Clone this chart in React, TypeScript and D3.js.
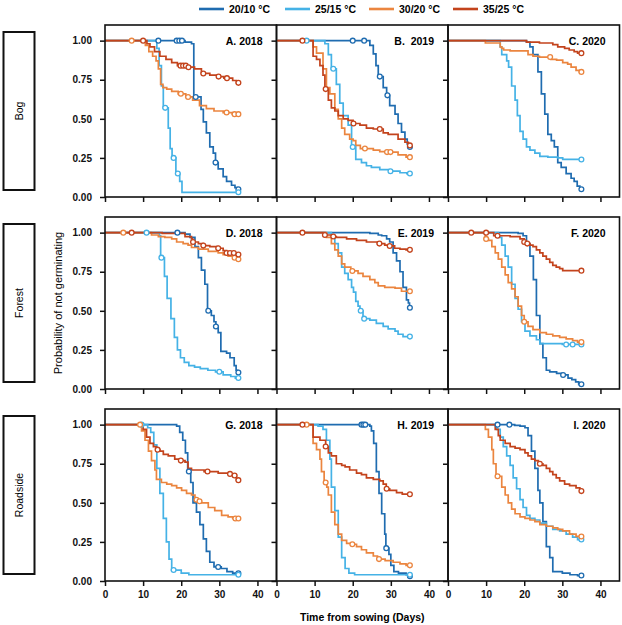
import * as React from 'react';
import { useEffect, useRef } from 'react';
import * as d3 from 'd3';

type Step = [number, number];

// treatment order: 20/10, 25/15, 30/20, 35/25
const temps = ['20/10 °C', '25/15 °C', '30/20 °C', '35/25 °C'];
const colors = ['#1f6cb0', '#45b2e6', '#eb853f', '#c3431c'];
const habitats = ['Bog', 'Forest', 'Roadside'];
const titles = ['A. 2018', 'B.  2019', 'C. 2020', 'D. 2018', 'E. 2019', 'F. 2020', 'G. 2018', 'H. 2019', 'I. 2020'];
const xTicks = [0, 10, 20, 30, 40];
const yTicks = [0, 0.25, 0.5, 0.75, 1];
const endDay = 35;

// Kaplan-Meier steps [day, survival] and censoring days, per panel and treatment
const A_2010: Step[] = [[0, 1], [21, 0.99], [22.7, 0.98], [23.3, 0.64], [25.2, 0.56], [25.8, 0.48], [26.6, 0.41], [27.5, 0.32], [28.4, 0.28], [29, 0.22], [29.7, 0.18], [31, 0.13], [31.9, 0.1], [33.2, 0.075], [34.1, 0.06], [34.7, 0.05]];
const A_2515: Step[] = [[0, 1], [13.6, 0.95], [14.2, 0.84], [14.8, 0.71], [15.3, 0.57], [16.6, 0.44], [17.1, 0.31], [17.6, 0.25], [18.6, 0.15], [19.6, 0.1], [20.2, 0.03]];
const A_3020: Step[] = [[0, 1], [10.6, 0.97], [11.5, 0.93], [12.5, 0.9], [13.4, 0.87], [14, 0.82], [14.6, 0.72], [15.2, 0.7], [16.2, 0.69], [17.5, 0.675], [19.2, 0.66], [21.2, 0.64], [23, 0.62], [24.8, 0.585], [26.6, 0.565], [28.6, 0.55], [31, 0.54], [33.4, 0.53]];
const A_3525: Step[] = [[0, 1], [11, 0.98], [11.8, 0.96], [13, 0.93], [14.4, 0.9], [16, 0.88], [17.5, 0.86], [19, 0.84], [21.3, 0.83], [23.5, 0.82], [25.3, 0.79], [27.5, 0.78], [29.5, 0.77], [31.2, 0.76], [33.5, 0.745], [34.5, 0.73]];
const A_cens = [[14, 18.8, 19.5, 20.2, 23.8, 29, 35], [15.8, 18, 19.1, 35], [7, 19.9, 21.8, 31.9, 34, 35], [10, 19.8, 20.5, 21.2, 21.9, 25.8, 29.8, 32, 35]];

const B_2010: Step[] = [[0, 1], [24.5, 0.97], [25.4, 0.915], [26.1, 0.84], [26.7, 0.77], [28, 0.7], [28.9, 0.65], [29.7, 0.585], [31.1, 0.53], [31.9, 0.47], [32.8, 0.415], [33.7, 0.37], [34.3, 0.34], [34.8, 0.32]];
const B_2515: Step[] = [[0, 1], [12.7, 0.98], [13.6, 0.91], [14.4, 0.82], [15.7, 0.72], [16.6, 0.6], [17.5, 0.52], [18.8, 0.46], [19.7, 0.32], [20.8, 0.24], [22.3, 0.22], [23.6, 0.2], [24.9, 0.19], [27.1, 0.175], [29.5, 0.165], [32.4, 0.155], [34.2, 0.15]];
const B_3020: Step[] = [[0, 1], [9.6, 0.96], [10.5, 0.92], [12.2, 0.82], [13.1, 0.7], [14, 0.66], [15.3, 0.56], [16.2, 0.5], [17.1, 0.44], [17.9, 0.4], [19.2, 0.37], [20.1, 0.36], [20.8, 0.33], [22, 0.31], [25.4, 0.3], [27.1, 0.29], [29, 0.287], [31.9, 0.27], [34, 0.255]];
const B_3525: Step[] = [[0, 1], [9.6, 0.9], [10.5, 0.88], [11.4, 0.84], [12.2, 0.78], [12.7, 0.69], [13.6, 0.62], [14.4, 0.57], [15.3, 0.55], [16.2, 0.52], [17.5, 0.5], [18.8, 0.49], [20.1, 0.47], [21.9, 0.46], [23.6, 0.44], [25.4, 0.435], [28, 0.41], [29.3, 0.4], [31.9, 0.37], [33.7, 0.35], [34.6, 0.33]];
const B_cens = [[20, 23, 27.1, 29.1, 35], [7.9, 14.9, 20, 29.9, 35], [23.2, 29, 29.9, 35], [6.8, 12.9, 20.2, 27.1, 35]];

const C_2010: Step[] = [[0, 1], [20.6, 0.99], [21.5, 0.96], [22.3, 0.91], [23.6, 0.8], [24.5, 0.66], [25.4, 0.53], [26.2, 0.4], [27.1, 0.36], [27.9, 0.32], [28.8, 0.22], [29.7, 0.19], [31, 0.15], [32.3, 0.12], [33.1, 0.1], [33.9, 0.07], [34.6, 0.05]];
const C_2515: Step[] = [[0, 1], [13.7, 0.96], [14.1, 0.91], [15.4, 0.87], [15.9, 0.83], [16.7, 0.71], [17.6, 0.62], [18.2, 0.52], [18.9, 0.42], [19.7, 0.37], [20.6, 0.32], [21.5, 0.3], [22.8, 0.28], [24.1, 0.26], [26.2, 0.255], [28.8, 0.25], [30.1, 0.24]];
const C_3020: Step[] = [[0, 1], [9.8, 0.985], [13.7, 0.96], [14.1, 0.95], [14.6, 0.94], [16.3, 0.935], [21, 0.91], [22.3, 0.9], [24, 0.895], [27, 0.88], [28.5, 0.875], [30.1, 0.86], [31.4, 0.85], [32.3, 0.83], [33.6, 0.81], [34.5, 0.8]];
const C_3525: Step[] = [[0, 1], [20.6, 0.99], [24, 0.985], [27.5, 0.975], [28.8, 0.96], [30.6, 0.95], [31.8, 0.94], [33.1, 0.93], [34, 0.92]];
const C_cens = [[35], [35], [26.8, 35], [35]];

const D_2010: Step[] = [[0, 1], [21, 0.99], [22.3, 0.97], [23.6, 0.91], [24.5, 0.84], [25.3, 0.76], [26.2, 0.67], [26.9, 0.5], [27.9, 0.47], [28.6, 0.43], [29.1, 0.4], [29.7, 0.36], [30.4, 0.24], [31.9, 0.23], [32.8, 0.2], [33.9, 0.15], [34.4, 0.12], [34.8, 0.105]];
const D_2515: Step[] = [[0, 1], [14.3, 0.98], [14.6, 0.84], [15.6, 0.72], [16.3, 0.58], [17.3, 0.45], [18.2, 0.33], [19, 0.25], [19.8, 0.2], [20.8, 0.17], [22, 0.15], [23.5, 0.14], [25, 0.13], [27, 0.12], [29, 0.11], [31, 0.09], [33, 0.08], [34.2, 0.07]];
const D_3020: Step[] = [[0, 1], [12.2, 0.985], [14, 0.975], [15.7, 0.97], [17.5, 0.96], [18.8, 0.94], [20.5, 0.93], [21.8, 0.92], [22.7, 0.905], [24.5, 0.895], [27.1, 0.88], [29.7, 0.87], [31, 0.86], [32.3, 0.85], [33.6, 0.84], [34.6, 0.83]];
const D_3525: Step[] = [[0, 1], [15, 0.995], [21, 0.975], [22.7, 0.96], [23, 0.94], [24.5, 0.93], [25.8, 0.917], [27.5, 0.91], [29.7, 0.9], [31, 0.885], [31.9, 0.87], [34, 0.86]];
const D_cens = [[19, 27.1, 29.1, 35], [10.9, 14.8, 30, 35], [4.8, 34, 35], [7, 23.1, 25.8, 29.7, 31.9, 32.8, 33.8, 35]];

const E_2010: Step[] = [[0, 1], [24.5, 0.995], [26.7, 0.985], [27.6, 0.98], [28.9, 0.96], [29.7, 0.94], [30.6, 0.87], [31.5, 0.82], [32.4, 0.75], [33.2, 0.65], [34.1, 0.57], [34.6, 0.55], [34.9, 0.52]];
const E_2515: Step[] = [[0, 1], [14.4, 0.97], [15.3, 0.93], [16.2, 0.87], [17.1, 0.78], [17.9, 0.74], [18.8, 0.7], [19.7, 0.65], [20.2, 0.62], [20.8, 0.56], [21.4, 0.53], [21.9, 0.5], [22.7, 0.45], [24.5, 0.44], [26.2, 0.42], [28, 0.4], [29.3, 0.385], [31.1, 0.37], [31.9, 0.35], [33.2, 0.335]];
const E_3020: Step[] = [[0, 1], [13.1, 0.97], [14.4, 0.93], [15.3, 0.89], [16.2, 0.85], [17.1, 0.8], [17.9, 0.78], [19.5, 0.755], [21.4, 0.74], [22.7, 0.72], [24.5, 0.7], [25.8, 0.68], [26.7, 0.66], [28.4, 0.65], [31.1, 0.645], [32.8, 0.625]];
const E_3525: Step[] = [[0, 1], [12.7, 0.985], [14.5, 0.975], [15.7, 0.97], [18.4, 0.96], [21, 0.95], [23.6, 0.94], [26.5, 0.93], [28.4, 0.92], [29.5, 0.915], [31, 0.9], [32.4, 0.895], [34, 0.89]];
const E_cens = [[35], [22.1, 23, 35], [19.9, 35], [6.8, 12.7, 14.9, 27, 29.7, 35]];

const F_2010: Step[] = [[0, 1], [18.4, 0.995], [19.7, 0.98], [20.6, 0.93], [21.5, 0.85], [22.4, 0.7], [23.2, 0.47], [24.1, 0.29], [24.9, 0.2], [25.8, 0.12], [26.7, 0.11], [28.5, 0.1], [30, 0.09], [31.5, 0.07], [32.5, 0.06], [33.5, 0.045], [34.3, 0.03]];
const F_2515: Step[] = [[0, 1], [13.2, 0.97], [14.1, 0.92], [15, 0.85], [15.8, 0.78], [16.7, 0.67], [17.6, 0.58], [18.4, 0.51], [19.3, 0.43], [20.2, 0.37], [21.5, 0.34], [23.2, 0.315], [24.1, 0.29], [30, 0.285]];
const F_3020: Step[] = [[0, 1], [9.8, 0.96], [10.6, 0.95], [11.5, 0.91], [12.4, 0.87], [13.2, 0.83], [14.1, 0.78], [15, 0.73], [15.8, 0.68], [16.7, 0.64], [17.6, 0.59], [18.4, 0.53], [19.3, 0.47], [20, 0.43], [21, 0.4], [22.3, 0.38], [24.1, 0.36], [25.8, 0.35], [27.5, 0.34], [29.3, 0.33], [31, 0.32], [32.7, 0.31], [34, 0.3]];
const F_3525: Step[] = [[0, 1], [12, 0.98], [16.3, 0.975], [18.9, 0.96], [20, 0.94], [20.8, 0.93], [21.5, 0.92], [22.3, 0.91], [23.2, 0.89], [24.1, 0.87], [24.9, 0.85], [25.8, 0.83], [26.7, 0.81], [27.5, 0.79], [28.4, 0.78], [29.3, 0.77], [30.1, 0.757]];
const F_cens = [[30.2, 35], [31, 32.7, 35], [10, 20, 35], [6.1, 10, 13, 20, 20.8, 35]];

const G_2010: Step[] = [[0, 1], [18.8, 0.99], [19.6, 0.95], [20.4, 0.9], [21.1, 0.82], [21.7, 0.7], [22.5, 0.63], [23.1, 0.5], [24, 0.44], [24.9, 0.36], [25.8, 0.27], [26.6, 0.19], [27.5, 0.12], [28.6, 0.09], [30.5, 0.08], [32, 0.06], [33.5, 0.05]];
const G_2515: Step[] = [[0, 1], [11.2, 0.98], [12, 0.95], [12.8, 0.87], [13.6, 0.72], [14.4, 0.56], [15.3, 0.4], [16.1, 0.25], [16.8, 0.14], [17.5, 0.07], [20, 0.05], [22, 0.04]];
const G_3020: Step[] = [[0, 1], [9.6, 0.96], [10.5, 0.9], [11.4, 0.83], [12.2, 0.77], [13.1, 0.71], [13.5, 0.65], [14.8, 0.63], [16.2, 0.62], [17.5, 0.61], [18.8, 0.595], [20.1, 0.58], [21.4, 0.56], [22.7, 0.55], [23.6, 0.52], [24.4, 0.51], [25.3, 0.5], [27.1, 0.47], [28.8, 0.45], [30.6, 0.42], [32.3, 0.41], [33.5, 0.4]];
const G_3525: Step[] = [[0, 1], [10, 0.97], [10.9, 0.92], [11.8, 0.88], [12.7, 0.86], [13.5, 0.84], [14.4, 0.83], [15.3, 0.81], [16.6, 0.8], [18.3, 0.78], [19.5, 0.77], [21, 0.76], [21.8, 0.72], [22.7, 0.71], [26, 0.7], [29.7, 0.69], [32.5, 0.685], [33.6, 0.675], [34.5, 0.645]];
const G_cens = [[22, 29.7, 35], [9.6, 18, 35], [9.2, 24, 24.8, 34.2, 35], [13.8, 19.9, 26.9, 32.8, 34, 35]];

const H_2010: Step[] = [[0, 1], [24.5, 0.99], [24.9, 0.96], [25.5, 0.88], [26.2, 0.7], [26.9, 0.56], [27.6, 0.43], [28.4, 0.3], [28.7, 0.21], [29.5, 0.17], [30, 0.1], [30.8, 0.06], [32, 0.05], [34, 0.04], [34.6, 0.03]];
const H_2515: Step[] = [[0, 1], [10.9, 0.99], [12.2, 0.97], [13.1, 0.9], [14, 0.78], [14.4, 0.6], [15.3, 0.45], [16.2, 0.28], [17.1, 0.15], [18, 0.08], [19, 0.05], [20.5, 0.04]];
const H_3020: Step[] = [[0, 1], [9.6, 0.88], [10.5, 0.84], [11.4, 0.78], [11.8, 0.7], [12.5, 0.63], [13.2, 0.6], [13.6, 0.55], [14.4, 0.44], [15.3, 0.36], [16.2, 0.3], [17.1, 0.26], [18.4, 0.24], [19.5, 0.235], [21, 0.22], [22.3, 0.2], [23.6, 0.18], [25.4, 0.16], [26.5, 0.14], [28.5, 0.13], [30.6, 0.12], [32.4, 0.11], [34, 0.1]];
const H_3525: Step[] = [[0, 1], [9.6, 0.92], [11.4, 0.9], [12.9, 0.86], [13.6, 0.82], [14.4, 0.8], [15.7, 0.75], [17.1, 0.74], [18, 0.73], [19.2, 0.71], [21, 0.69], [22.3, 0.68], [23.6, 0.66], [25.4, 0.65], [27.1, 0.64], [28, 0.62], [28.8, 0.59], [29.7, 0.58], [31.5, 0.565], [33, 0.555]];
const H_cens = [[22.3, 22.8, 23.3, 28.8, 35], [35], [7.9, 12.9, 19.9, 26.9, 35], [6.8, 12.9, 28.9, 35]];

const I_2010: Step[] = [[0, 1], [17.5, 0.995], [18.9, 0.99], [20.2, 0.98], [21, 0.93], [21.9, 0.83], [22.8, 0.72], [23.6, 0.58], [24.1, 0.5], [24.9, 0.38], [25.8, 0.22], [26.7, 0.15], [27.5, 0.06], [30, 0.05], [32, 0.04], [34, 0.035]];
const I_2515: Step[] = [[0, 1], [12.8, 0.97], [13.7, 0.92], [14.5, 0.86], [15.4, 0.8], [16.3, 0.74], [17.1, 0.66], [18, 0.59], [18.9, 0.52], [19.7, 0.47], [20.6, 0.42], [21.5, 0.4], [22.8, 0.39], [24.1, 0.37], [25.8, 0.35], [27.5, 0.33], [29.3, 0.32], [31, 0.3], [32.7, 0.28], [34, 0.265]];
const I_3020: Step[] = [[0, 1], [9.8, 0.97], [10.6, 0.92], [11.5, 0.84], [11.9, 0.75], [12.6, 0.67], [14.1, 0.6], [15, 0.55], [15.8, 0.5], [16.7, 0.46], [17.6, 0.43], [18.9, 0.41], [20.2, 0.4], [21.5, 0.39], [22.8, 0.38], [24.1, 0.36], [25.8, 0.35], [27.5, 0.34], [28.8, 0.33], [30.1, 0.32], [31.9, 0.3], [33.6, 0.285]];
const I_3525: Step[] = [[0, 1], [12.4, 0.97], [13.2, 0.93], [13.7, 0.9], [15, 0.88], [16.3, 0.86], [17.6, 0.85], [18.9, 0.84], [20.2, 0.82], [21, 0.8], [21.9, 0.78], [22.8, 0.77], [23.7, 0.75], [24.9, 0.74], [25.8, 0.72], [26.7, 0.7], [27.5, 0.68], [28.4, 0.66], [29.3, 0.64], [30.6, 0.62], [31.9, 0.61], [33.6, 0.595], [34.6, 0.575]];
const I_cens = [[13, 16.1, 35], [35], [13, 35], [24.1, 35]];

const panelSeries: Step[][][] = [
  [A_2010, A_2515, A_3020, A_3525], [B_2010, B_2515, B_3020, B_3525], [C_2010, C_2515, C_3020, C_3525],
  [D_2010, D_2515, D_3020, D_3525], [E_2010, E_2515, E_3020, E_3525], [F_2010, F_2515, F_3020, F_3525],
  [G_2010, G_2515, G_3020, G_3525], [H_2010, H_2515, H_3020, H_3525], [I_2010, I_2515, I_3020, I_3525],
];
const panelCens: number[][][] = [A_cens, B_cens, C_cens, D_cens, E_cens, F_cens, G_cens, H_cens, I_cens];

// survival value in effect on a given day
function valueAt(steps: Step[], day: number) {
  let v = steps[0][1];
  for (const s of steps) if (s[0] <= day) v = s[1];
  return v;
}

export default function App() {
  const ref = useRef<SVGSVGElement | null>(null);

  useEffect(() => {
    if (!ref.current) return;
    const svg = d3.select(ref.current);
    svg.selectAll('*').remove();

    const font = '"Liberation Sans", Arial, Helvetica, sans-serif';
    const left0 = 105, colW = 171.5, top0 = 25, rowStep = 192, plotH = 172;

    // legend
    const legendX = [229, 315, 399, 483];
    const legend = svg.append('g');
    temps.forEach((t, i) => {
      legend.append('line')
        .attr('x1', legendX[i] - 30).attr('x2', legendX[i] - 5)
        .attr('y1', 9).attr('y2', 9)
        .attr('stroke', colors[i]).attr('stroke-width', 2.6);
      legend.append('text')
        .attr('x', legendX[i]).attr('y', 12.8)
        .attr('font-family', font).attr('font-weight', 'bold').attr('font-size', 10.5)
        .text(t);
    });

    for (let r = 0; r < 3; r++) {
      const top = top0 + r * rowStep;

      // habitat box
      svg.append('rect')
        .attr('x', 3.5).attr('y', top + 7).attr('width', 31).attr('height', 158)
        .attr('fill', 'none').attr('stroke', '#111').attr('stroke-width', 2);
      svg.append('text')
        .attr('transform', `translate(23,${top + 86}) rotate(-90)`)
        .attr('text-anchor', 'middle')
        .attr('font-family', font).attr('font-size', 10.5)
        .text(habitats[r]);

      for (let c = 0; c < 3; c++) {
        const idx = r * 3 + c;
        const left = left0 + c * colW;
        const x = d3.scaleLinear().domain([0, 45]).range([left, left + colW]);
        const y = d3.scaleLinear().domain([0, 1.1]).range([top + plotH, top]);
        const g = svg.append('g');

        const xAxis = g.append('g')
          .attr('transform', `translate(0,${top + plotH})`)
          .call(d3.axisBottom(x).tickValues(xTicks).tickSize(5).tickPadding(5)
            .tickFormat(r === 2 ? (d3.format('d') as any) : () => ''));
        const yAxis = g.append('g')
          .attr('transform', `translate(${left},0)`)
          .call(d3.axisLeft(y).tickValues(yTicks).tickSize(5).tickPadding(8)
            .tickFormat(c === 0 ? (d3.format('.2f') as any) : () => ''));
        [xAxis, yAxis].forEach(a => {
          a.select('.domain').remove();
          a.selectAll('line').attr('stroke', '#111').attr('stroke-width', 1.5);
          a.selectAll('text')
            .attr('font-family', font).attr('font-weight', 'bold')
            .attr('font-size', 10).attr('fill', '#111');
        });

        const line = d3.line<Step>()
          .x(d => x(d[0]))
          .y(d => y(d[1]))
          .curve(d3.curveStepAfter);

        panelSeries[idx].forEach((steps, k) => {
          const pts: Step[] = [...steps, [endDay, steps[steps.length - 1][1]]];
          g.append('path')
            .attr('d', line(pts) as string)
            .attr('fill', 'none')
            .attr('stroke', colors[k])
            .attr('stroke-width', 1.7);
        });
        panelSeries[idx].forEach((steps, k) => {
          g.selectAll(null)
            .data(panelCens[idx][k])
            .enter().append('circle')
            .attr('cx', d => x(d))
            .attr('cy', d => y(valueAt(steps, d)))
            .attr('r', 2.4)
            .attr('fill', '#fff')
            .attr('stroke', colors[k])
            .attr('stroke-width', 1.3);
        });

        // frame
        g.append('rect')
          .attr('x', left).attr('y', top).attr('width', colW).attr('height', plotH)
          .attr('fill', 'none').attr('stroke', '#111').attr('stroke-width', 1.6);

        g.append('text')
          .attr('x', left + colW - 14).attr('y', y(1) + 4)
          .attr('text-anchor', 'end')
          .style('white-space', 'pre')
          .attr('font-family', font).attr('font-weight', 'bold').attr('font-size', 10.5)
          .text(titles[idx]);
      }
    }

    svg.append('text')
      .attr('transform', `translate(62,${top0 + rowStep + plotH / 2}) rotate(-90)`)
      .attr('text-anchor', 'middle')
      .attr('font-family', font).attr('font-size', 11)
      .text('Probability of not germinating');

    svg.append('text')
      .attr('x', left0 + (3 * colW) / 2).attr('y', 621)
      .attr('text-anchor', 'middle')
      .attr('font-family', font).attr('font-weight', 'bold').attr('font-size', 10.5)
      .text('Time from sowing (Days)');
  }, []);

  return (
    <svg ref={ref} width={622} height={625}
      style={{ position: 'absolute', left: 0, top: 0, background: '#fff' }} />
  );
}
